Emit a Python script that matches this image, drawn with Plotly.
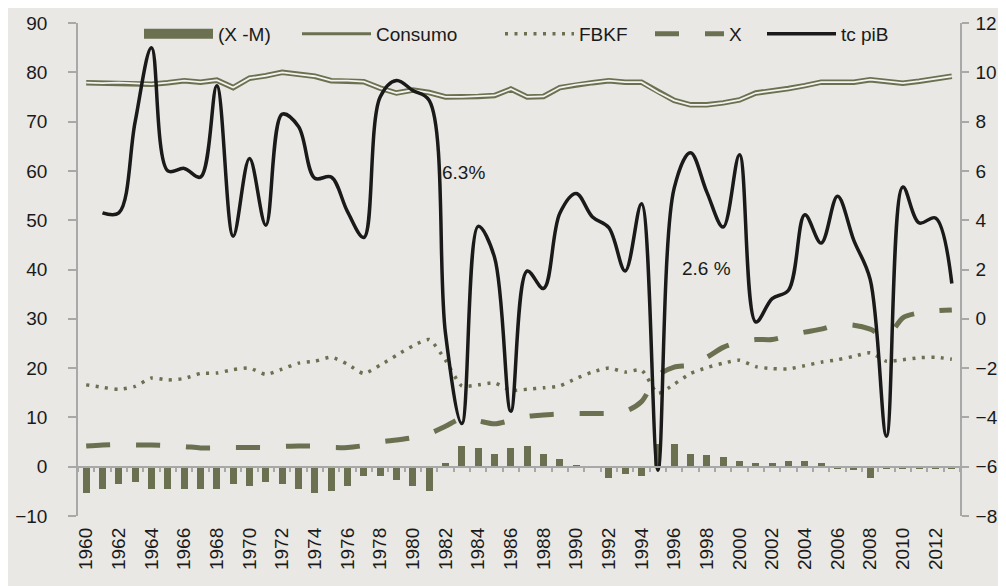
import plotly.graph_objects as go

years = list(range(1960, 2014))

x_minus_m = [-5.4, -4.5, -3.6, -3.2, -4.5, -4.5, -4.5, -4.5, -4.5, -3.6,
             -4.0, -3.2, -3.6, -4.5, -5.4, -4.9, -4.0, -1.8, -1.8, -2.6,
             -4.0, -4.9, 0.7, 4.2, 3.8, 2.6, 3.8, 4.2, 2.6, 1.5,
             0.3, -0.3, -2.2, -1.4, -1.8, 4.7, 4.7, 2.6, 2.4, 2.0,
             1.15, 0.75, 0.75, 1.15, 1.15, 0.75, -0.4, -0.6, -2.2, -0.4,
             -0.4, -0.4, -0.4, -0.4]

consumo = [77.9, 77.8, 77.9, 77.8, 77.6, 77.9, 78.3, 78.0, 78.4, 76.9,
           78.8, 79.3, 80.0, 79.6, 79.2, 78.3, 78.3, 78.1, 76.8, 75.8,
           76.4, 75.9, 75.0, 75.0, 75.1, 75.3, 76.6, 75.0, 75.1, 76.9,
           77.5, 77.9, 78.3, 78.0, 78.0, 76.0, 74.3, 73.4, 73.4, 73.8,
           74.4, 75.8, 76.2, 76.7, 77.3, 78.0, 78.0, 78.0, 78.5, 78.2,
           77.8, 78.2, 78.7, 79.2]

fbkf = [16.6, 16.1, 15.7, 16.3, 18.0, 17.6, 17.9, 18.9, 19.0, 19.7,
        20.0, 18.7, 19.8, 21.0, 21.4, 22.2, 20.8, 18.9, 20.6, 22.6,
        24.5, 25.8, 21.6, 16.4, 16.6, 17.0, 15.5, 15.7, 16.0, 16.4,
        17.9, 19.2, 20.0, 19.2, 19.6, 14.9, 16.75, 18.9, 20.1, 21.0,
        21.6, 20.3, 19.9, 19.85, 20.5, 21.2, 21.7, 22.4, 23.1, 21.4,
        21.7, 22.1, 22.2, 21.8]

exports = [4.2, 4.4, 4.5, 4.4, 4.4, 4.3, 4.1, 3.8, 3.8, 3.9,
           3.9, 3.9, 4.1, 4.2, 4.2, 3.9, 3.9, 4.3, 5.0, 5.4,
           5.9, 6.7, 8.2, 9.8, 9.3, 8.7, 9.4, 10.2, 10.5, 10.7,
           10.8, 10.8, 10.8, 11.2, 13.2, 18.5, 20.2, 20.6, 22.2, 24.2,
           25.3, 25.8, 25.8, 26.6, 27.3, 27.9, 28.8, 28.7, 27.9, 26.3,
           30.2, 31.2, 31.6, 31.8]

tc_pib = [None, 4.3, 4.3, 8.0, 11.0, 6.0, 6.1, 5.75, 9.45, 3.35,
          6.5, 3.8, 8.3, 7.8, 5.7, 5.75, 4.35, 3.3, 9.0, 9.67,
          9.26, 8.86, -0.6, -4.25, 3.75, 2.5, -3.75, 1.94, 1.23, 4.28,
          5.08, 4.13, 3.7, 1.94, 4.67, -6.14, 5.3, 6.74, 5.14, 3.72,
          6.66, -0.13, 0.82, 1.16, 4.22, 3.07, 4.97, 3.18, 1.6, -4.76,
          5.35, 3.89, 4.09, 1.43]

tick_years = list(range(1960, 2013, 2))
tick_labels = [str(y) for y in tick_years]

OLIVE = "#6B7150"
BG = "#E9E8E4"
AXC = "#A8A8A8"
TXT = "#1A1A1A"
FONT = "Liberation Sans, Arial, sans-serif"

fig = go.Figure()

# bars
fig.add_trace(go.Bar(x=years, y=x_minus_m, width=0.42, marker=dict(color=OLIVE, line=dict(width=0)),
                     showlegend=False, hoverinfo="skip"))
fig.add_trace(go.Scatter(x=[None], y=[None], mode="lines", name="(X -M)",
                         line=dict(color=OLIVE, width=12), legend="legend"))

# consumo double line
fig.add_trace(go.Scatter(x=years, y=consumo, mode="lines", line=dict(color=OLIVE, width=5.5),
                         showlegend=False))
fig.add_trace(go.Scatter(x=years, y=consumo, mode="lines", line=dict(color="#F4F3EF", width=1.8),
                         showlegend=False))
fig.add_trace(go.Scatter(x=[None], y=[None], mode="lines", name="Consumo",
                         line=dict(color=OLIVE, width=3), legend="legend2"))

# FBKF dotted
fig.add_trace(go.Scatter(x=years, y=fbkf, mode="lines", name="FBKF",
                         line=dict(color=OLIVE, width=3.5, dash="3px,6.5px", shape="spline", smoothing=0.6),
                         legend="legend3"))

# X dashed
fig.add_trace(go.Scatter(x=years, y=exports, mode="lines", name="X",
                         line=dict(color=OLIVE, width=5, dash="24px,26px", shape="spline", smoothing=0.8),
                         legend="legend4"))

# tc piB
fig.add_trace(go.Scatter(x=years, y=tc_pib, mode="lines", name="tc piB", yaxis="y2",
                         line=dict(color="#1A1A1A", width=3.5, shape="spline", smoothing=1.0),
                         legend="legend5"))

# dummy trace for the zero-line axis
fig.add_trace(go.Scatter(x=[None], y=[None], xaxis="x2", showlegend=False, hoverinfo="skip"))

fig.add_annotation(x=1983.1, y=59.6, xref="x", yref="y", text="6.3%", showarrow=False,
                   font=dict(size=19, color=TXT, family=FONT))
fig.add_annotation(x=1997.96, y=40.3, xref="x", yref="y", text="2.6 %", showarrow=False,
                   font=dict(size=19, color=TXT, family=FONT))

# the page adds an 8px body margin; positions below are in figure pixels
FW, FH = 1006, 586
OFF = 8
L, T, PW, PH = 70, 15, 882, 493

def leg_x(text_screen_x):
    box_fig = text_screen_x - 79 - OFF
    return box_fig / FW

leg_common = dict(orientation="h", yanchor="middle", y=1 - (34 - OFF) / FH, xanchor="left",
                  xref="container", yref="container",
                  bgcolor="rgba(0,0,0,0)", borderwidth=0, itemwidth=69,
                  font=dict(size=19, color=TXT, family=FONT))

fig.update_layout(
    width=FW, height=FH,
    margin=dict(l=L, r=FW - L - PW, t=T, b=FH - T - PH, autoexpand=False),
    paper_bgcolor=BG,
    plot_bgcolor=BG,
    font=dict(family=FONT, size=19, color=TXT),
    bargap=0,
    legend=dict(x=leg_x(218), **leg_common),
    legend2=dict(x=leg_x(376), **leg_common),
    legend3=dict(x=leg_x(579), **leg_common),
    legend4=dict(x=leg_x(729), **leg_common),
    legend5=dict(x=leg_x(841), **leg_common),
    xaxis=dict(range=[1959.5, 2013.5], tickmode="array", tickvals=tick_years, ticktext=tick_labels,
               tickangle=-90, ticks="", showline=False, showgrid=False, zeroline=False, automargin=False,
               ticklabelstandoff=7, tickfont=dict(size=19, color=TXT, family=FONT)),
    xaxis2=dict(range=[1959.5, 2013.5], overlaying="x", anchor="free", position=0.1,
                tickmode="array", tickvals=[y - 0.5 for y in years] + [2013.5], automargin=False,
                showticklabels=False, ticks="outside", ticklen=5, tickcolor=AXC, tickwidth=1.5,
                showline=True, linecolor=AXC, linewidth=1.5, showgrid=False, zeroline=False),
    yaxis=dict(range=[-10, 90], dtick=10, showline=True, linecolor=AXC, linewidth=1.5, automargin=False,
               ticks="outside", ticklen=8, tickcolor=AXC, tickwidth=1.5, showgrid=False, zeroline=False,
               ticklabelstandoff=17, tickfont=dict(size=19, color=TXT, family=FONT)),
    yaxis2=dict(range=[-8, 12], dtick=2, overlaying="y", side="right", showline=True, linecolor=AXC,
                linewidth=1.5, ticks="outside", ticklen=7, tickcolor=AXC, tickwidth=1.5, automargin=False,
                showgrid=False, zeroline=False, ticklabelstandoff=3,
                tickfont=dict(size=19, color=TXT, family=FONT)),
)

fig.write_html(
    "out.html",
    post_script="document.documentElement.style.overflow='hidden';",
)
